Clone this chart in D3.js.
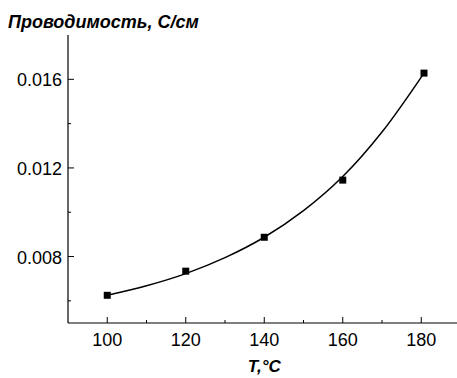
<!DOCTYPE html>
<html>
<head>
<meta charset="utf-8">
<script src="https://cdn.jsdelivr.net/npm/d3@7"></script>
<style>
  body { margin: 0; background: #fff; }
  text { font-family: "Liberation Sans", Arial, sans-serif; }
</style>
</head>
<body>
<svg id="chart" width="457" height="378"></svg>
<script>
// measured points
const temps = [100, 120, 140, 160, 180.7]
const conductivity = [0.00625, 0.00734, 0.00887, 0.01145, 0.01628]

// fitted curve
const fitTemps = [100, 110, 120, 130, 140, 150, 160, 170, 180.7]
const fitValues = [0.00625, 0.00668, 0.00723, 0.00795, 0.00887, 0.01007, 0.01161, 0.01362, 0.01628]

const xTicks = [100, 120, 140, 160, 180]
const xMinor = [110, 130, 150, 170]
const yTicks = [0.008, 0.012, 0.016]
const yMinor = [0.006, 0.010, 0.014]

const svg = d3.select('#chart')

const x = d3.scaleLinear().domain([90, 190]).range([68, 460.5])
const y = d3.scaleLinear().domain([0.005, 0.018]).range([323, 35])

// x axis, ticks point inward
const xAxis = svg.append('g').attr('transform', `translate(0,${y(0.005)})`)
xAxis.append('line')
  .attr('x1', x(90)).attr('x2', x(190))
  .attr('stroke', '#000').attr('stroke-width', 1.2)
xAxis.selectAll('.major').data(xTicks).enter().append('line')
  .attr('x1', d => x(d)).attr('x2', d => x(d))
  .attr('y1', 0).attr('y2', -6)
  .attr('stroke', '#000')
xAxis.selectAll('.minor').data(xMinor).enter().append('line')
  .attr('x1', d => x(d)).attr('x2', d => x(d))
  .attr('y1', 0).attr('y2', -3)
  .attr('stroke', '#000')
xAxis.selectAll('text').data(xTicks).enter().append('text')
  .attr('x', d => x(d)).attr('y', 23)
  .attr('text-anchor', 'middle')
  .attr('font-size', 18)
  .text(d => d)

// y axis
const yAxis = svg.append('g').attr('transform', `translate(${x(90)},0)`)
yAxis.append('line')
  .attr('y1', y(0.005)).attr('y2', y(0.018))
  .attr('stroke', '#000').attr('stroke-width', 1.2)
yAxis.selectAll('.major').data(yTicks).enter().append('line')
  .attr('y1', d => y(d)).attr('y2', d => y(d))
  .attr('x1', 0).attr('x2', 6)
  .attr('stroke', '#000')
yAxis.selectAll('.minor').data(yMinor).enter().append('line')
  .attr('y1', d => y(d)).attr('y2', d => y(d))
  .attr('x1', 0).attr('x2', 3)
  .attr('stroke', '#000')
yAxis.selectAll('text').data(yTicks).enter().append('text')
  .attr('x', -6).attr('y', d => y(d) + 7)
  .attr('text-anchor', 'end')
  .attr('font-size', 18)
  .text(d => d3.format('.3f')(d))

// fit line
const line = d3.line()
  .x((d, i) => x(fitTemps[i]))
  .y(d => y(d))
  .curve(d3.curveCatmullRom)
svg.append('path')
  .datum(fitValues)
  .attr('d', line)
  .attr('fill', 'none')
  .attr('stroke', '#000')
  .attr('stroke-width', 1.5)

// points
svg.selectAll('.pt').data(conductivity).enter().append('rect')
  .attr('class', 'pt')
  .attr('x', (d, i) => x(temps[i]) - 3.5)
  .attr('y', d => y(d) - 3.5)
  .attr('width', 7).attr('height', 7)
  .attr('fill', '#000')

// titles
svg.append('text')
  .attr('x', 8).attr('y', 28)
  .attr('font-size', 18).attr('font-weight', 'bold').attr('font-style', 'italic')
  .text('Проводимость, С/см')
svg.append('text')
  .attr('x', x(140)).attr('y', 372)
  .attr('text-anchor', 'middle')
  .attr('font-size', 17).attr('font-weight', 'bold').attr('font-style', 'italic')
  .text('T,°C')
</script>
</body>
</html>
